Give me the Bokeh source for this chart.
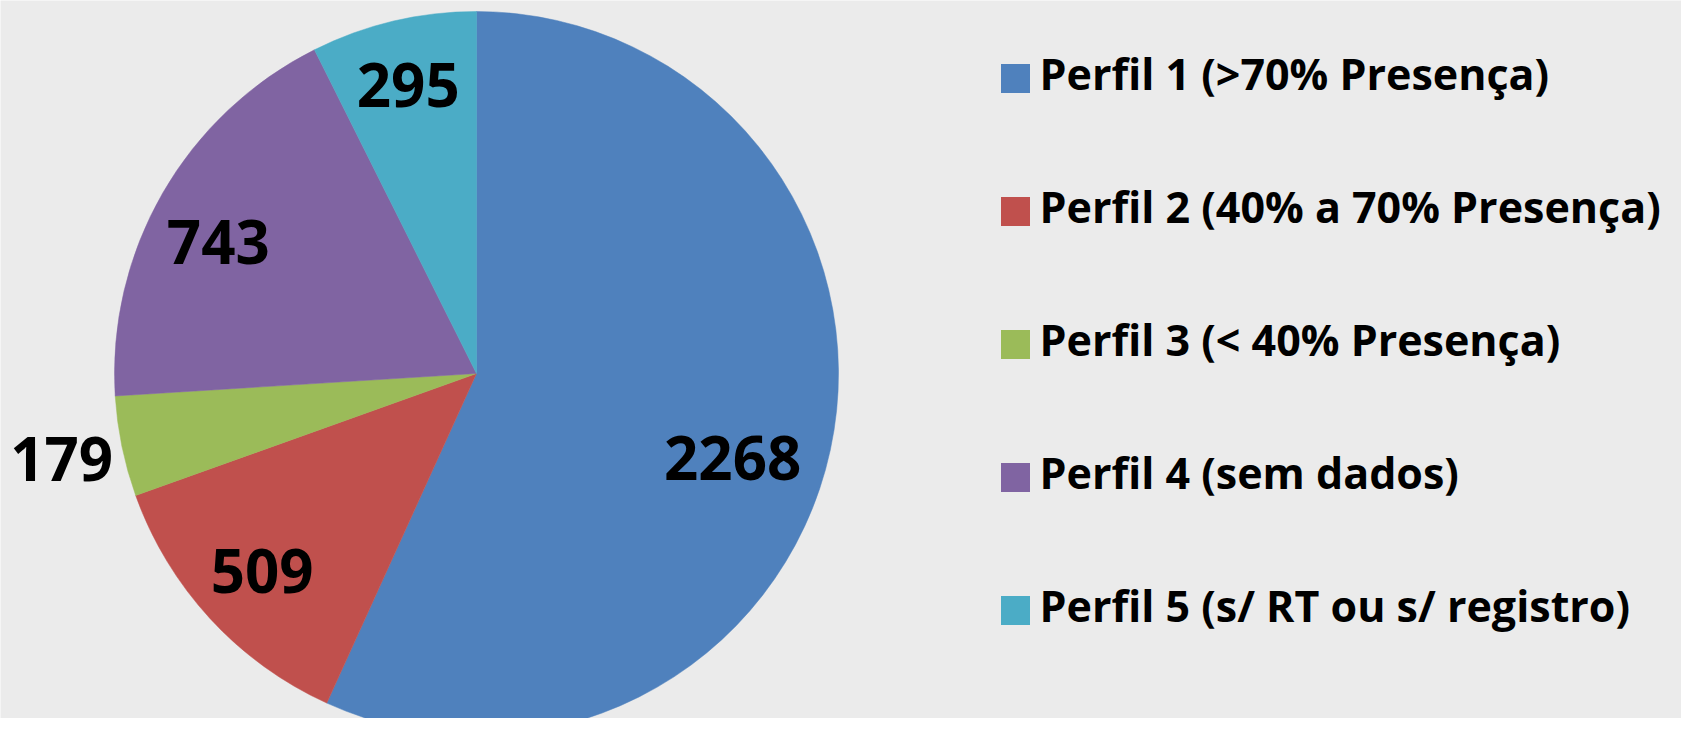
import math
from bokeh.plotting import figure
from bokeh.models import Range1d
from bokeh.core.properties import value
from bokeh.embed import file_html
from bokeh.resources import INLINE

# ---- data ----
categories = [
    "Perfil 1 (>70% Presença)",
    "Perfil 2 (40% a 70% Presença)",
    "Perfil 3 (< 40% Presença)",
    "Perfil 4 (sem dados)",
    "Perfil 5 (s/ RT ou s/ registro)",
]
counts = [2268, 509, 179, 743, 295]
colors = ["#4F81BD", "#C0504D", "#9BBB59", "#8064A2", "#4BACC6"]

# ---- layout / style ----
W, H = 1681, 718
CX, CY, R = 476, 345, 362
label_radius = [0.745, 0.805, 1.17, 0.80, 0.82]
label_nudge_deg = [6, 0, 0, -3, 0]
FONT = "Open Sans"
BG = "#ebebeb"

p = figure(width=W, height=H, output_backend="svg", toolbar_location=None,
           x_range=Range1d(0, W), y_range=Range1d(0, H), min_border=0)
p.axis.visible = False
p.grid.visible = False
p.outline_line_color = None
p.background_fill_color = BG
p.border_fill_color = BG

total = float(sum(counts))
starts, ends, lx, ly = [], [], [], []
cum = 0.0
for i, c in enumerate(counts):
    a0 = math.pi / 2 - 2 * math.pi * cum / total
    cum += c
    a1 = math.pi / 2 - 2 * math.pi * cum / total
    starts.append(a1)
    ends.append(a0)
    mid = (a0 + a1) / 2 - math.radians(label_nudge_deg[i])
    lx.append(CX + R * label_radius[i] * math.cos(mid))
    ly.append(CY + R * label_radius[i] * math.sin(mid))

p.wedge(x=CX, y=CY, radius=R, start_angle=starts, end_angle=ends,
        direction="anticlock", fill_color=colors, line_color=colors, line_width=0.5)

p.text(x=lx, y=ly, text=[str(c) for c in counts], text_font=value(FONT),
       text_font_style="bold", text_font_size="60px", text_color="#000000",
       text_align="center", text_baseline="alphabetic", y_offset=0)

# legend
LEG_X, LEG_TOP, LEG_STEP, SQ = 1015, 640, 133, 29
leg_y = [LEG_TOP - i * LEG_STEP for i in range(len(categories))]
p.rect(x=[LEG_X] * len(categories), y=leg_y, width=SQ, height=SQ,
       fill_color=colors, line_color=None)
p.text(x=[LEG_X + 24] * len(categories), y=leg_y, text=categories,
       text_font=value(FONT), text_font_style="bold", text_font_size="43px",
       text_color="#000000", text_align="left", text_baseline="alphabetic",
       y_offset=-5)

open("out.html", "w").write(file_html(p, INLINE))
